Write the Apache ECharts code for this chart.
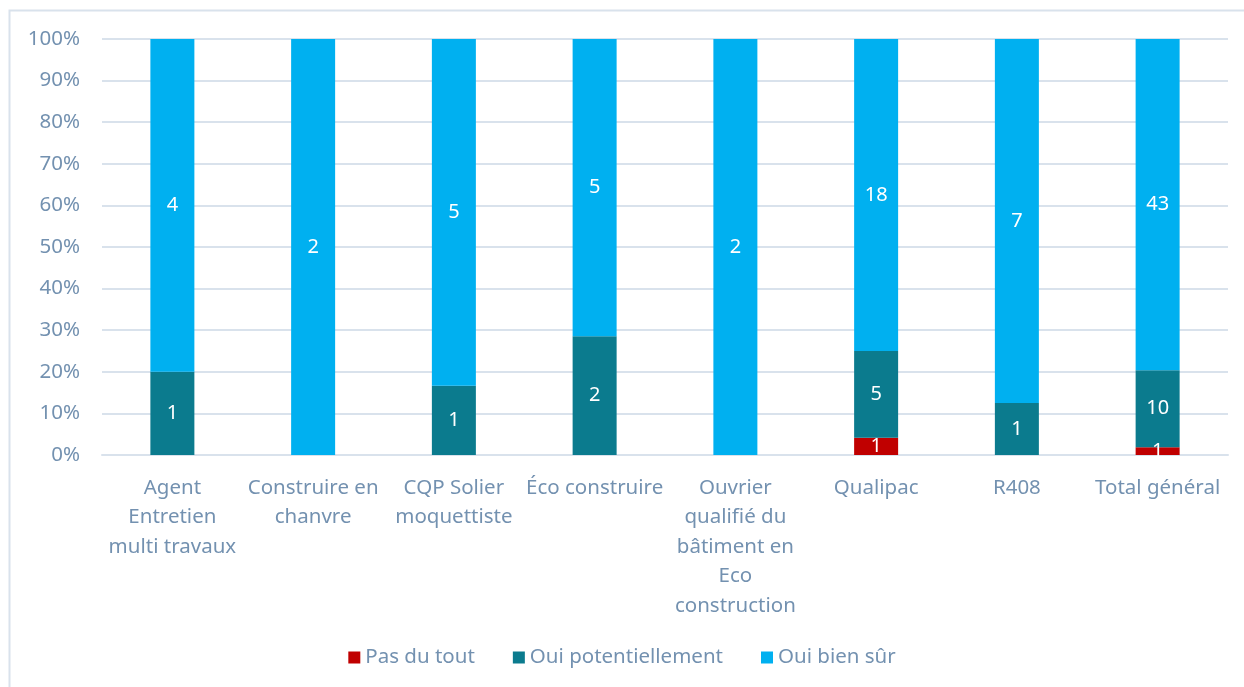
<!DOCTYPE html>
<html>
<head>
<meta charset="utf-8">
<script src="https://cdn.jsdelivr.net/npm/echarts@6/dist/echarts.min.js"></script>
<style>
  html, body { margin: 0; padding: 0; background: #fff; }
  #chart { width: 1244px; height: 687px; }
</style>
</head>
<body>
<div id="chart"></div>
<script>
const categories = [
  "Agent\nEntretien\nmulti travaux",
  "Construire en\nchanvre",
  "CQP Solier\nmoquettiste",
  "Éco construire",
  "Ouvrier\nqualifié du\nbâtiment en\nEco\nconstruction",
  "Qualipac",
  "R408",
  "Total général",
];
const pasDuTout = [0, 0, 0, 0, 0, 1, 0, 1];
const ouiPotentiellement = [1, 0, 1, 2, 0, 5, 1, 10];
const ouiBienSur = [4, 2, 5, 5, 2, 18, 7, 43];
const yTicks = [0, 10, 20, 30, 40, 50, 60, 70, 80, 90, 100];

const textColor = "#7391b0";
const fontFamily = "'Noto Sans', 'Open Sans', sans-serif";

const totals = categories.map((c, i) => pasDuTout[i] + ouiPotentiellement[i] + ouiBienSur[i]);

function makeSeries(name, counts, color) {
  return {
    name: name,
    type: "bar",
    stack: "a",
    barWidth: 44,
    itemStyle: { color: color },
    data: counts.map((v, i) => ({ value: (v / totals[i]) * 100, count: v })),
    label: {
      show: true,
      position: "inside",
      color: "#fff",
      fontSize: 20,
      fontFamily: fontFamily,
      formatter: (p) => (p.data.count ? String(p.data.count) : ""),
    },
  };
}

const chart = echarts.init(document.getElementById("chart"));
chart.setOption({
  animation: false,
  graphic: [{
    type: "rect",
    shape: { x: 9.5, y: 10.5, width: 1250, height: 700 },
    style: { fill: "none", stroke: "#d9e2ec", lineWidth: 2 },
    silent: true,
  }],
  legend: {
    bottom: 14,
    left: "center",
    itemWidth: 12,
    itemHeight: 12,
    itemGap: 38,
    icon: "rect",
    textStyle: { color: textColor, fontSize: 20.5, fontFamily: fontFamily },
    data: ["Pas du tout", "Oui potentiellement", "Oui bien sûr"],
  },
  grid: { left: 102, right: 16, top: 39, bottom: 232 },
  xAxis: {
    type: "category",
    data: categories,
    axisLine: { show: true, lineStyle: { color: "#d9e2ec", width: 2 } },
    axisTick: { show: false },
    axisLabel: {
      color: textColor,
      fontSize: 20.5,
      fontFamily: fontFamily,
      lineHeight: 29.5,
      margin: 18,
      interval: 0,
    },
  },
  yAxis: {
    type: "value",
    min: yTicks[0],
    max: yTicks[yTicks.length - 1],
    interval: 10,
    axisLine: { show: false },
    axisTick: { show: false },
    splitLine: { lineStyle: { color: "#d9e2ec", width: 2 } },
    axisLabel: {
      color: textColor,
      fontSize: 20.5,
      fontFamily: fontFamily,
      margin: 22,
      formatter: (v) => v + "%",
    },
  },
  series: [
    makeSeries("Pas du tout", pasDuTout, "#c00000"),
    makeSeries("Oui potentiellement", ouiPotentiellement, "#0b7b8e"),
    makeSeries("Oui bien sûr", ouiBienSur, "#00b0f0"),
  ],
});
</script>
</body>
</html>
